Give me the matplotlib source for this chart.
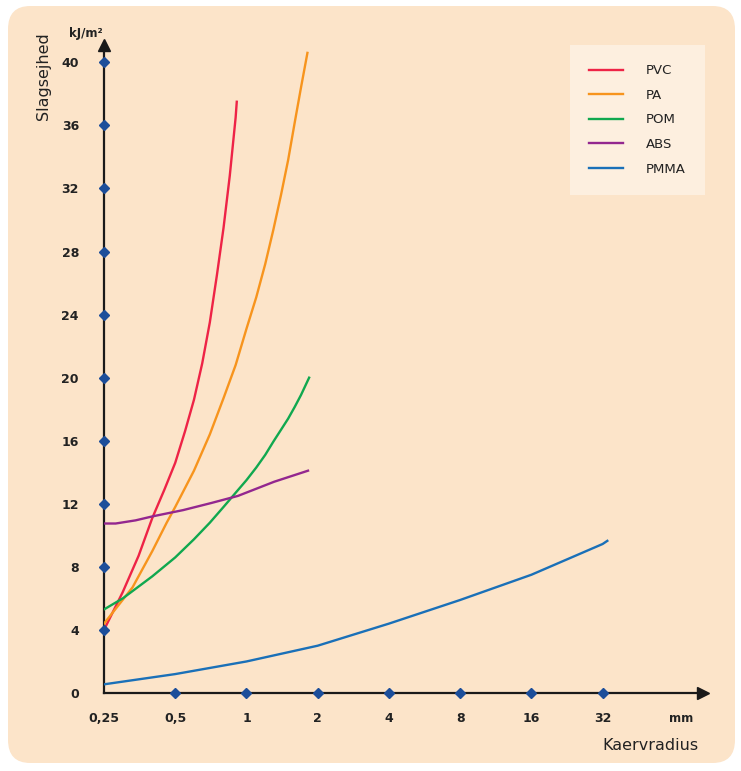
import matplotlib.pyplot as plt
import numpy as np
from matplotlib.patches import FancyBboxPatch

# kaervradius (mm) / slagsejhed (kJ/m2)
pvc_x = [0.25, 0.3, 0.35, 0.4, 0.45, 0.5, 0.55, 0.6, 0.65, 0.7, 0.75, 0.8, 0.85, 0.9, 0.91]
pvc_y = [4.0, 6.4, 8.7, 11.1, 12.9, 14.6, 16.6, 18.6, 20.9, 23.5, 26.5, 29.5, 32.8, 36.5, 37.5]

pa_x = [0.25, 0.33, 0.4, 0.46, 0.5, 0.6, 0.7, 0.8, 0.9, 1.0, 1.1, 1.2, 1.3, 1.4, 1.5, 1.6, 1.7, 1.81]
pa_y = [4.4, 6.7, 9.0, 10.8, 11.8, 14.1, 16.4, 18.7, 20.8, 23.1, 25.1, 27.2, 29.4, 31.6, 33.8, 36.2, 38.4, 40.6]

pom_x = [0.25, 0.3, 0.4, 0.5, 0.6, 0.7, 0.8, 0.9, 1.0, 1.1, 1.2, 1.3, 1.4, 1.5, 1.6, 1.7, 1.84]
pom_y = [5.3, 6.0, 7.4, 8.6, 9.75, 10.8, 11.8, 12.7, 13.5, 14.3, 15.1, 15.95, 16.7, 17.4, 18.15, 18.9, 20.0]

abs_x = [0.25, 0.28, 0.34, 0.4, 0.54, 0.71, 0.92, 1.31, 1.82]
abs_y = [10.75, 10.75, 10.95, 11.2, 11.6, 12.05, 12.5, 13.4, 14.1]

pmma_x = [0.25, 0.5, 1, 2, 4, 8, 16, 32, 33.5]
pmma_y = [0.55, 1.2, 2.0, 3.0, 4.4, 5.9, 7.5, 9.45, 9.65]

x_ticks = [0.25, 0.5, 1, 2, 4, 8, 16, 32]
x_labels = ['0,25', '0,5', '1', '2', '4', '8', '16', '32']
y_ticks = [0, 4, 8, 12, 16, 20, 24, 28, 32, 36, 40]

series = [
    ('PVC', pvc_x, pvc_y, '#EE2346'),
    ('PA', pa_x, pa_y, '#F7941D'),
    ('POM', pom_x, pom_y, '#10A84F'),
    ('ABS', abs_x, abs_y, '#93278F'),
    ('PMMA', pmma_x, pmma_y, '#1A70B8'),
]

W, H = 741, 771
fig = plt.figure(figsize=(W / 100, H / 100), dpi=100)
fig.patch.set_facecolor('white')

# peach rounded background
bg = FancyBboxPatch((8 / W, 8 / H), 727 / W, 757 / H,
                    boxstyle='round,pad=0,rounding_size=0.03',
                    transform=fig.transFigure, facecolor='#FCE4C9',
                    edgecolor='none', zorder=-5)
fig.patches.append(bg)

ax = fig.add_axes([104 / W, 78 / H, 599 / W, 648 / H])
ax.set_zorder(2)
ax.set_facecolor('none')
ax.set_xscale('log', base=2)
ax.set_xlim(0.25, 85)
ax.set_ylim(0, 41.1)

for name, xs, ys, col in series:
    ax.plot(xs, ys, color=col, lw=1.7, label=name, zorder=3)

for s in ['top', 'right']:
    ax.spines[s].set_visible(False)
for s in ['left', 'bottom']:
    ax.spines[s].set_linewidth(1.6)
    ax.spines[s].set_color('#1a1a1a')

ax.set_xticks(x_ticks)
ax.set_xticklabels(x_labels)
ax.xaxis.set_minor_locator(plt.NullLocator())
ax.set_yticks(y_ticks)
ax.tick_params(axis='both', length=0, labelsize=9, colors='#222222')
ax.tick_params(axis='x', pad=14)
ax.tick_params(axis='y', pad=18)
for lab in ax.get_xticklabels() + ax.get_yticklabels():
    lab.set_fontweight('bold')

# blue tick dots on the axes
ax.plot(x_ticks[1:], [0] * (len(x_ticks) - 1), 'D', color='#1C4E9A', ms=5,
        clip_on=False, zorder=4)
ax.plot([0.25] * (len(y_ticks) - 1), y_ticks[1:], 'D', color='#1C4E9A', ms=5,
        clip_on=False, zorder=4)

# arrow heads
ax.plot(1, 0, '>', color='#1a1a1a', ms=8, transform=ax.transAxes, clip_on=False)
ax.plot(0, 1, '^', color='#1a1a1a', ms=8, transform=ax.transAxes, clip_on=False)

fig.text(86 / W, 1 - 33 / H, 'kJ/m²', fontsize=8.5, fontweight='bold',
         ha='center', va='center', color='#222222')
fig.text(43 / W, 1 - 76 / H, 'Slagsejhed', fontsize=11.5, rotation=90,
         ha='center', va='center', color='#222222')
fig.text(681 / W, 1 - 719 / H, 'mm', fontsize=8.5, fontweight='bold',
         ha='center', va='center', color='#222222')
fig.text(698 / W, 1 - 746 / H, 'Kaervradius', fontsize=11.5,
         ha='right', va='center', color='#222222')

leg = ax.legend(loc='upper left', bbox_to_anchor=(570 / W, 1 - 45 / H),
                bbox_transform=fig.transFigure, fontsize=9.5,
                handlelength=2.6, handletextpad=1.7, labelspacing=0.88,
                borderpad=1.45, borderaxespad=0, fancybox=False,
                framealpha=1, facecolor='#FDEFDF', edgecolor='none')
for t in leg.get_texts():
    t.set_color('#222222')
leg.get_frame().set_linewidth(0)

fig.savefig('out.png', dpi=100, facecolor=fig.get_facecolor())
